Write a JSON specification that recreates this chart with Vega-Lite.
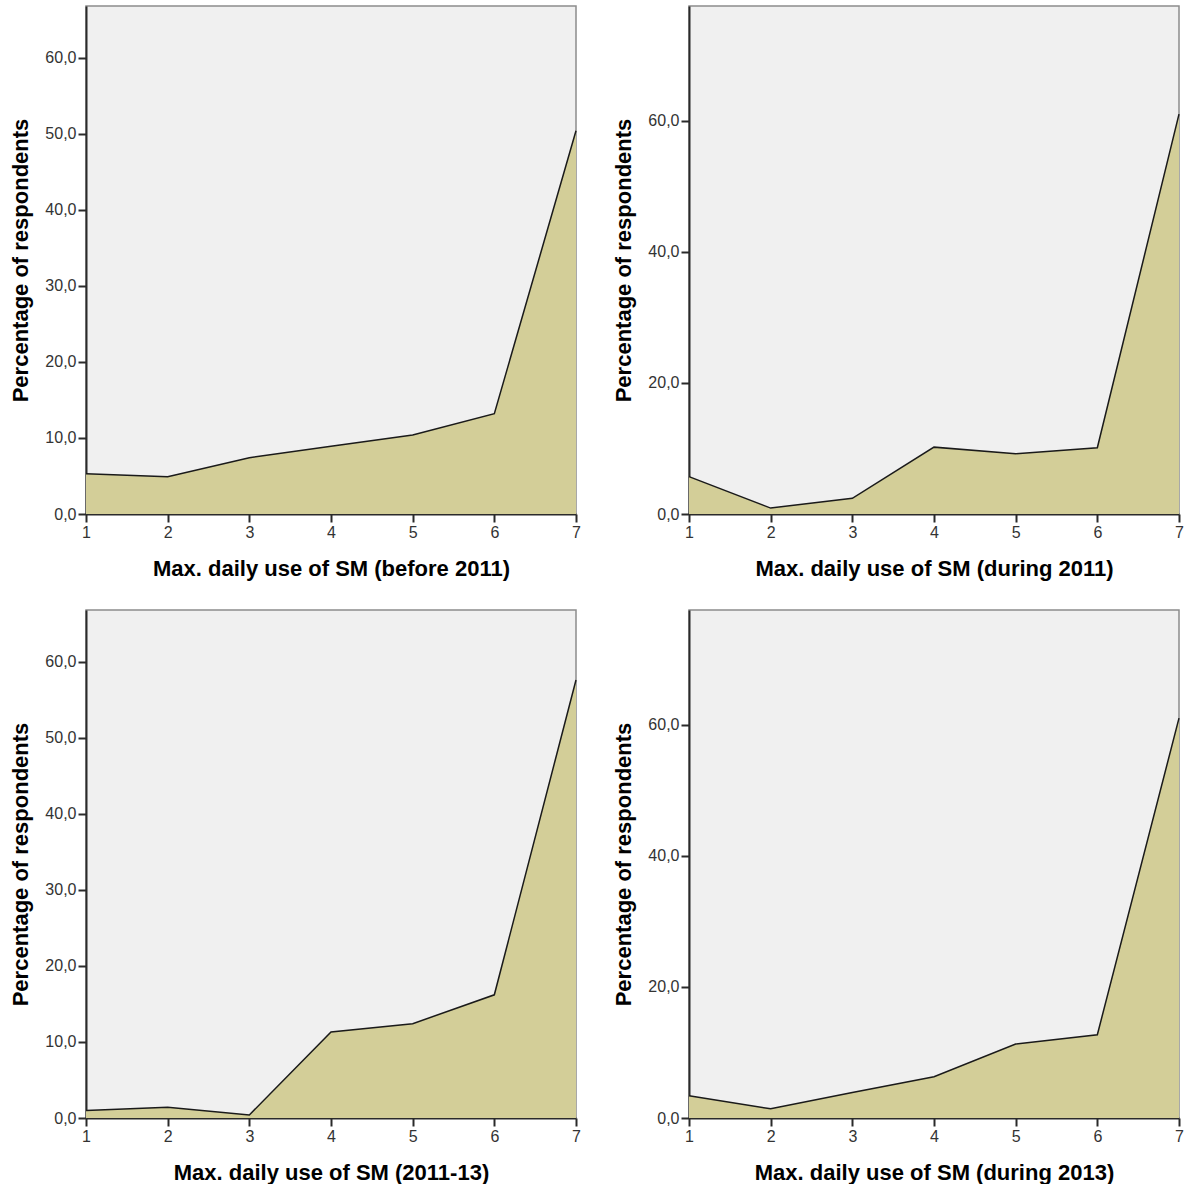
{
  "$schema": "https://vega.github.io/schema/vega-lite/v6.json",
  "padding": {"left": 9, "top": 5, "right": 5, "bottom": 0},
  "bounds": "flush",
  "spacing": {"column": 113, "row": 96},
  "columns": 2,
  "data": {"values": [
    {"panel": "before", "x": 1, "pct": 5.3},
    {"panel": "before", "x": 2, "pct": 4.9},
    {"panel": "before", "x": 3, "pct": 7.4},
    {"panel": "before", "x": 4, "pct": 8.9},
    {"panel": "before", "x": 5, "pct": 10.4},
    {"panel": "before", "x": 6, "pct": 13.2},
    {"panel": "before", "x": 7, "pct": 50.4},
    {"panel": "during2011", "x": 1, "pct": 5.7},
    {"panel": "during2011", "x": 2, "pct": 0.9},
    {"panel": "during2011", "x": 3, "pct": 2.4},
    {"panel": "during2011", "x": 4, "pct": 10.2},
    {"panel": "during2011", "x": 5, "pct": 9.2},
    {"panel": "during2011", "x": 6, "pct": 10.1},
    {"panel": "during2011", "x": 7, "pct": 61.0},
    {"panel": "2011-13", "x": 1, "pct": 1.0},
    {"panel": "2011-13", "x": 2, "pct": 1.4},
    {"panel": "2011-13", "x": 3, "pct": 0.4},
    {"panel": "2011-13", "x": 4, "pct": 11.3},
    {"panel": "2011-13", "x": 5, "pct": 12.4},
    {"panel": "2011-13", "x": 6, "pct": 16.2},
    {"panel": "2011-13", "x": 7, "pct": 57.6},
    {"panel": "during2013", "x": 1, "pct": 3.4},
    {"panel": "during2013", "x": 2, "pct": 1.4},
    {"panel": "during2013", "x": 3, "pct": 3.9},
    {"panel": "during2013", "x": 4, "pct": 6.3},
    {"panel": "during2013", "x": 5, "pct": 11.3},
    {"panel": "during2013", "x": 6, "pct": 12.7},
    {"panel": "during2013", "x": 7, "pct": 61.0}
  ]},
  "concat": [
    {
      "width": 490, "height": 508,
      "transform": [{"filter": "datum.panel == 'before'"}],
      "mark": {"type": "area", "color": "#d3ce98", "opacity": 1, "line": {"color": "#1a1a1a", "strokeWidth": 1.5}},
      "encoding": {
        "x": {"field": "x", "type": "quantitative", "scale": {"domain": [1, 7], "nice": false, "zero": false}, "axis": {"values": [1, 2, 3, 4, 5, 6, 7], "format": "d", "title": "Max. daily use of SM (before 2011)"}},
        "y": {"field": "pct", "type": "quantitative", "scale": {"domain": [0, 66.8], "nice": false}, "axis": {"values": [0, 10, 20, 30, 40, 50, 60], "labelExpr": "replace(format(datum.value, '.1f'), '.', ',')", "title": "Percentage of respondents"}}
      }
    },
    {
      "width": 490, "height": 508,
      "transform": [{"filter": "datum.panel == 'during2011'"}],
      "mark": {"type": "area", "color": "#d3ce98", "opacity": 1, "line": {"color": "#1a1a1a", "strokeWidth": 1.5}},
      "encoding": {
        "x": {"field": "x", "type": "quantitative", "scale": {"domain": [1, 7], "nice": false, "zero": false}, "axis": {"values": [1, 2, 3, 4, 5, 6, 7], "format": "d", "title": "Max. daily use of SM (during 2011)"}},
        "y": {"field": "pct", "type": "quantitative", "scale": {"domain": [0, 77.5], "nice": false}, "axis": {"values": [0, 20, 40, 60], "labelExpr": "replace(format(datum.value, '.1f'), '.', ',')", "title": "Percentage of respondents"}}
      }
    },
    {
      "width": 490, "height": 508,
      "transform": [{"filter": "datum.panel == '2011-13'"}],
      "mark": {"type": "area", "color": "#d3ce98", "opacity": 1, "line": {"color": "#1a1a1a", "strokeWidth": 1.5}},
      "encoding": {
        "x": {"field": "x", "type": "quantitative", "scale": {"domain": [1, 7], "nice": false, "zero": false}, "axis": {"values": [1, 2, 3, 4, 5, 6, 7], "format": "d", "title": "Max. daily use of SM (2011-13)"}},
        "y": {"field": "pct", "type": "quantitative", "scale": {"domain": [0, 66.8], "nice": false}, "axis": {"values": [0, 10, 20, 30, 40, 50, 60], "labelExpr": "replace(format(datum.value, '.1f'), '.', ',')", "title": "Percentage of respondents"}}
      }
    },
    {
      "width": 490, "height": 508,
      "transform": [{"filter": "datum.panel == 'during2013'"}],
      "mark": {"type": "area", "color": "#d3ce98", "opacity": 1, "line": {"color": "#1a1a1a", "strokeWidth": 1.5}},
      "encoding": {
        "x": {"field": "x", "type": "quantitative", "scale": {"domain": [1, 7], "nice": false, "zero": false}, "axis": {"values": [1, 2, 3, 4, 5, 6, 7], "format": "d", "title": "Max. daily use of SM (during 2013)"}},
        "y": {"field": "pct", "type": "quantitative", "scale": {"domain": [0, 77.5], "nice": false}, "axis": {"values": [0, 20, 40, 60], "labelExpr": "replace(format(datum.value, '.1f'), '.', ',')", "title": "Percentage of respondents"}}
      }
    }
  ],
  "config": {
    "background": "white",
    "view": {"fill": "#f0f0f0", "stroke": "#8c8c8c", "strokeWidth": 1.5},
    "axis": {
      "grid": false,
      "domainColor": "#2a2a2a", "domainWidth": 2,
      "tickColor": "#2a2a2a", "tickWidth": 2, "tickSize": 8,
      "labelFont": "Liberation Sans", "labelFontSize": 16, "labelColor": "#333333", "labelPadding": 2,
      "titleFont": "Liberation Sans", "titleFontWeight": "bold", "titleFontSize": 22, "titleColor": "#000000"
    },
    "axisX": {"titlePadding": 18, "labelFlush": false},
    "axisY": {"titlePadding": 12}
  }
}
